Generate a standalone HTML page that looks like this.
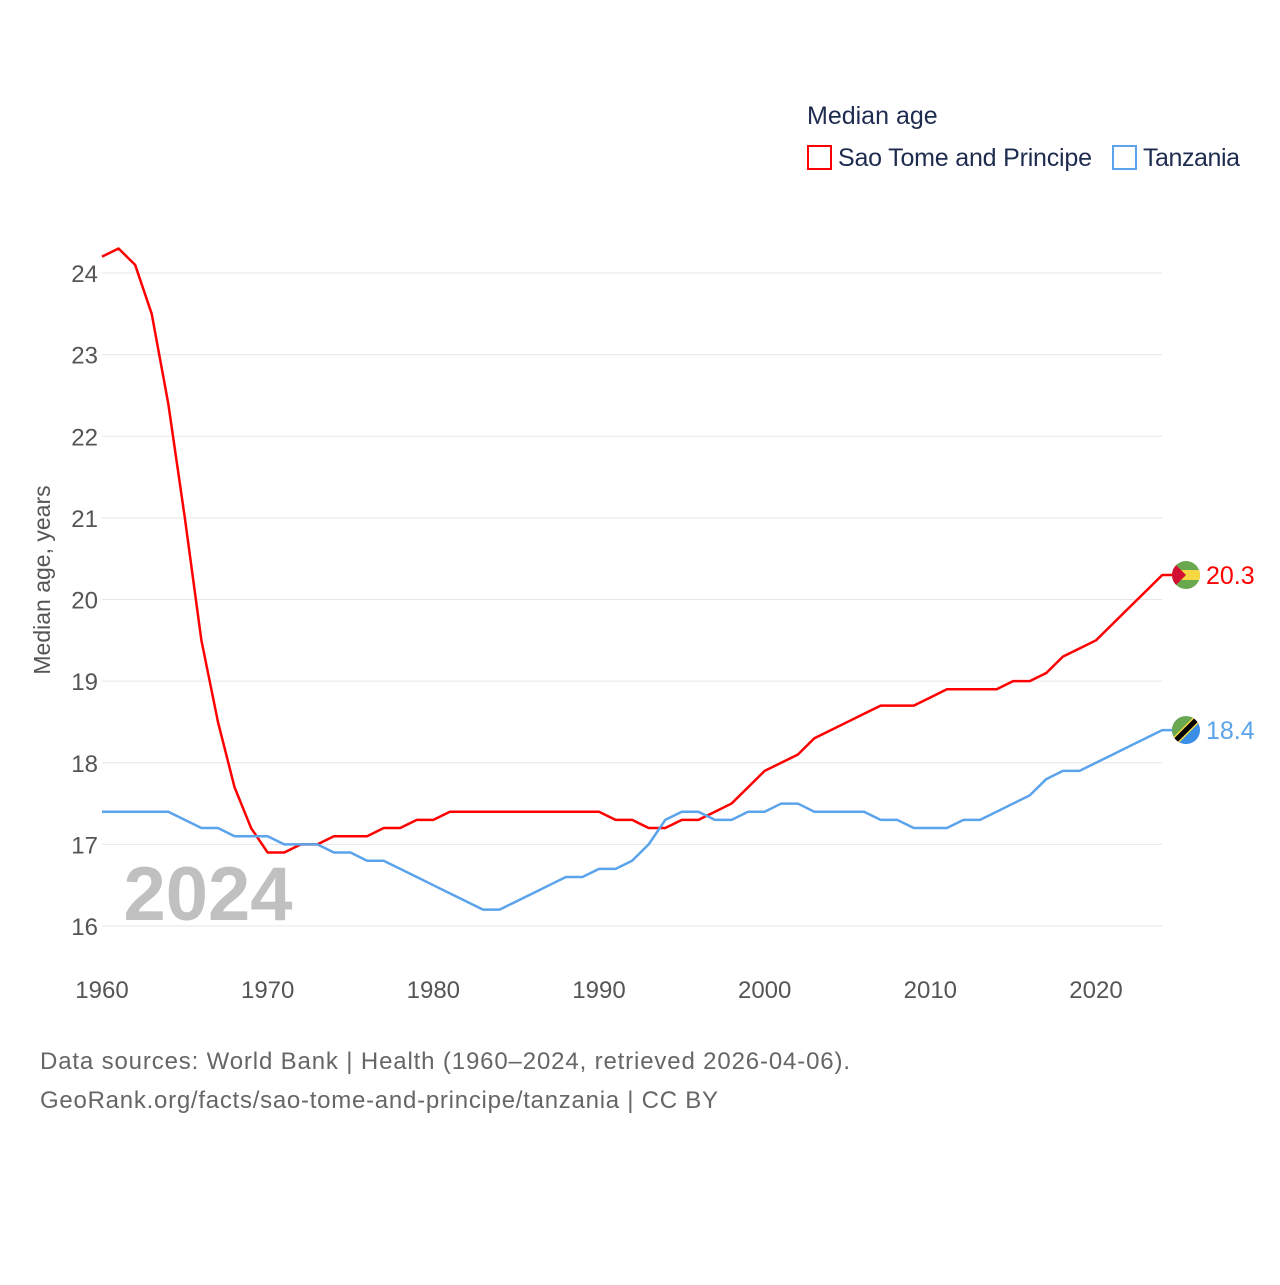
<!DOCTYPE html>
<html><head><meta charset="utf-8"><style>
body{margin:0;background:#fff;width:1280px;height:1280px;overflow:hidden}
svg{font-family:"Liberation Sans",sans-serif}
</style></head><body>
<svg id="chart" width="1280" height="1280">
<defs><clipPath id="c1"><circle cx="1186" cy="575" r="14"/></clipPath><clipPath id="c2"><circle cx="1186" cy="730" r="14"/></clipPath></defs>
<text x="807" y="124" font-size="25" fill="#1d2b4f">Median age</text>
<g><rect x="808" y="146" width="23" height="23" fill="none" stroke="#ff0000" stroke-width="2"/><text x="838" y="166" font-size="25" fill="#1d2b4f" textLength="254">Sao Tome and Principe</text></g>
<g><rect x="1113" y="146" width="23" height="23" fill="none" stroke="#5ba3ea" stroke-width="2"/><text x="1143" y="166" font-size="25" fill="#1d2b4f" textLength="97">Tanzania</text></g>
<g id="grid"></g>
<text x="208" y="920" font-size="76" font-weight="bold" fill="#c0c0c0" text-anchor="middle">2024</text>
<g id="lines"></g>
<text transform="translate(50,580) rotate(-90)" font-size="23" fill="#555" text-anchor="middle">Median age, years</text>
<text x="40" y="1069" font-size="24" fill="#666" textLength="810">Data sources: World Bank | Health (1960–2024, retrieved 2026-04-06).</text>
<text x="40" y="1108" font-size="24" fill="#666" textLength="678">GeoRank.org/facts/sao-tome-and-principe/tanzania | CC BY</text>
</svg>
<script>
const years=[];for(let y=1960;y<=2024;y++)years.push(y);
const saoTome=[24.2,24.3,24.1,23.5,22.4,21.0,19.5,18.5,17.7,17.2,16.9,16.9,17.0,17.0,17.1,17.1,17.1,17.2,17.2,17.3,17.3,17.4,17.4,17.4,17.4,17.4,17.4,17.4,17.4,17.4,17.4,17.3,17.3,17.2,17.2,17.3,17.3,17.4,17.5,17.7,17.9,18.0,18.1,18.3,18.4,18.5,18.6,18.7,18.7,18.7,18.8,18.9,18.9,18.9,18.9,19.0,19.0,19.1,19.3,19.4,19.5,19.7,19.9,20.1,20.3];
const tanzania=[17.4,17.4,17.4,17.4,17.4,17.3,17.2,17.2,17.1,17.1,17.1,17.0,17.0,17.0,16.9,16.9,16.8,16.8,16.7,16.6,16.5,16.4,16.3,16.2,16.2,16.3,16.4,16.5,16.6,16.6,16.7,16.7,16.8,17.0,17.3,17.4,17.4,17.3,17.3,17.4,17.4,17.5,17.5,17.4,17.4,17.4,17.4,17.3,17.3,17.2,17.2,17.2,17.3,17.3,17.4,17.5,17.6,17.8,17.9,17.9,18.0,18.1,18.2,18.3,18.4];
const yTicks=[16,17,18,19,20,21,22,23,24];
const xTicks=[1960,1970,1980,1990,2000,2010,2020];
const X=y=>102+(y-1960)*(994/60);
const Y=v=>926-(v-16)*81.625;
const NS='http://www.w3.org/2000/svg';
const grid=document.getElementById('grid'),lines=document.getElementById('lines');
function mk(tag,at,parent){const e=document.createElementNS(NS,tag);for(const k in at)e.setAttribute(k,at[k]);parent.appendChild(e);return e;}
yTicks.forEach(t=>{
 const l=mk('line',{x1:102,x2:1162,y1:Y(t),y2:Y(t),stroke:'#e6e6e6','stroke-width':1},grid);
 
 
 const tx=mk('text',{x:98,y:Y(t)+9,'font-size':24,fill:'#555','text-anchor':'end'},grid);tx.textContent=t;
 
 
});
xTicks.forEach(t=>{
 const tx=mk('text',{x:X(t),y:998,'font-size':24,fill:'#555','text-anchor':'middle'},grid);tx.textContent=t;
 
 
});
function series(vals,color,name){
 const pts=vals.map((v,i)=>X(years[i])+','+Y(v));
 const last=vals[vals.length-1];
 pts.push((X(2024)+10)+','+Y(last));
 const p=mk('polyline',{points:pts.join(' '),fill:'none',stroke:color,'stroke-width':2.5,'stroke-linejoin':'round'},lines);
 
 
 const g=mk('g',{},lines);
 
 
 const t=mk('text',{x:1206,y:Y(last)+9,'font-size':25,fill:color},lines);t.textContent=last.toFixed(1);
 
 
 return {g,cy:Y(last)};
}
const s1=series(saoTome,'#ff0000','sao-tome');
s1.g.setAttribute('clip-path','url(#c1)');
document.getElementById('c1').firstChild.setAttribute('cy',s1.cy);
mk('rect',{x:1172,y:s1.cy-14,width:28,height:28,fill:'#6aa84f'},s1.g);
mk('rect',{x:1172,y:s1.cy-5,width:28,height:10,fill:'#f5d742'},s1.g);
mk('polygon',{points:`1172,${s1.cy-14} 1186,${s1.cy} 1172,${s1.cy+14}`,fill:'#d21034'},s1.g);
const s2=series(tanzania,'#5ba3ea','tanzania');
s2.g.setAttribute('clip-path','url(#c2)');
document.getElementById('c2').firstChild.setAttribute('cy',s2.cy);
mk('rect',{x:1172,y:s2.cy-14,width:28,height:28,fill:'#3a8ee6'},s2.g);
mk('polygon',{points:`1172,${s2.cy-14} 1200,${s2.cy-14} 1172,${s2.cy+14}`,fill:'#6aa84f'},s2.g);
mk('line',{x1:1174,y1:s2.cy+12,x2:1198,y2:s2.cy-12,stroke:'#f5d742','stroke-width':8},s2.g);
mk('line',{x1:1174,y1:s2.cy+12,x2:1198,y2:s2.cy-12,stroke:'#000','stroke-width':5},s2.g);
</script>
</body></html>
